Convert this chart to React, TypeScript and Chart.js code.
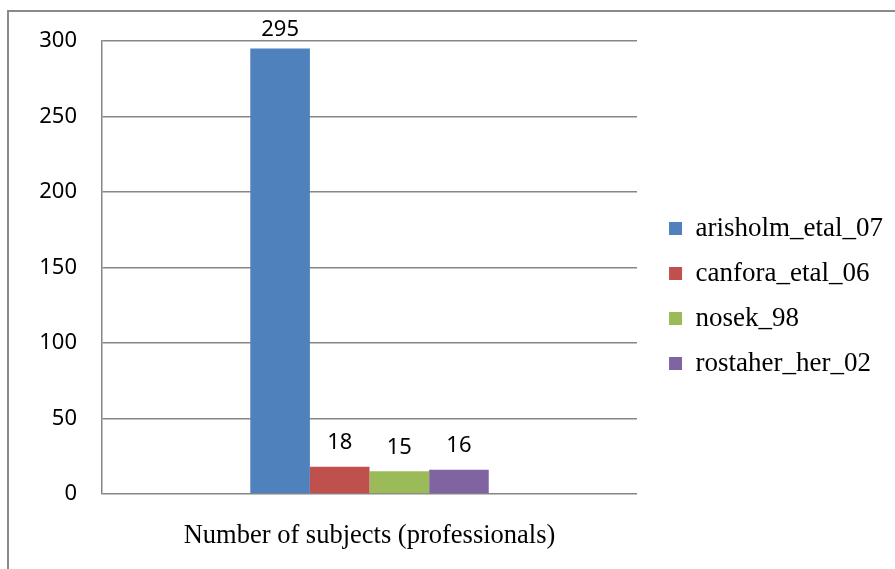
import React, { useEffect, useRef } from "react";
import { Chart, registerables } from "chart.js";

Chart.register(...registerables);

const categories = ["Number of subjects (professionals)"];
const seriesNames = ["arisholm_etal_07", "canfora_etal_06", "nosek_98", "rostaher_her_02"];
const seriesValues = [295, 18, 15, 16];
const seriesColors = ["#4F81BD", "#C0504D", "#9BBB59", "#8064A2"];
const yTicks = [0, 50, 100, 150, 200, 250, 300];

const GRID = "#868686";
const SANS = "'Noto Sans', 'Open Sans', sans-serif";
const SERIF = "'Liberation Serif', 'Times New Roman', serif";

const valueLabels = {
  id: "valueLabels",
  afterDatasetsDraw(chart: any) {
    const ctx = chart.ctx;
    ctx.save();
    ctx.font = `22px ${SANS}`;
    ctx.fillStyle = "#000";
    ctx.textAlign = "center";
    ctx.textBaseline = "middle";
    chart.data.datasets.forEach((ds: any, i: number) => {
      const meta = chart.getDatasetMeta(i);
      meta.data.forEach((bar: any, j: number) => {
        const y = Math.max(bar.y - 24, chart.chartArea.top - 11);
        ctx.fillText(String(ds.data[j]), bar.x, y);
      });
    });
    ctx.restore();
  },
};

export default function App() {
  const ref = useRef<HTMLCanvasElement | null>(null);

  useEffect(() => {
    if (!ref.current) return;
    const chart = new Chart(ref.current, {
      type: "bar",
      data: {
        labels: categories,
        datasets: seriesNames.map((name, i) => ({
          label: name,
          data: [seriesValues[i]],
          backgroundColor: seriesColors[i],
          borderWidth: 0,
          categoryPercentage: 0.4457,
          barPercentage: 1,
        })),
      },
      options: {
        animation: false,
        responsive: false,
        maintainAspectRatio: false,
        devicePixelRatio: 1,
        layout: { padding: { top: 41, bottom: 18, left: 0, right: 0 } },
        plugins: {
          tooltip: { enabled: false },
          legend: {
            position: "right",
            maxWidth: 400,
            labels: {
              boxWidth: 13,
              boxHeight: 13,
              padding: 18,
              color: "#000",
              font: { family: SERIF, size: 27 },
            },
          },
        },
        scales: {
          x: {
            grid: { display: false, drawTicks: false },
            border: { display: false },
            ticks: {
              color: "#000",
              padding: 26,
              font: { family: SERIF, size: 26.5 },
            },
            afterFit: (s: any) => {
              s.height = 57;
            },
          },
          y: {
            min: 0,
            max: 300,
            grid: { color: GRID, lineWidth: 1.5, drawTicks: false },
            border: { display: true, color: GRID, width: 1.5 },
            ticks: {
              color: "#000",
              padding: 25,
              font: { family: SANS, size: 22 },
            },
            afterBuildTicks: (s: any) => {
              s.ticks = yTicks.map((v) => ({ value: v }));
            },
            afterFit: (s: any) => {
              s.width = 102;
            },
          },
          y2: {
            position: "right",
            display: true,
            grid: { display: false, drawTicks: false },
            border: { display: false },
            ticks: { display: false },
            afterFit: (s: any) => {
              s.width = 14;
            },
          },
        },
      },
      plugins: [valueLabels],
    } as any);
    return () => chart.destroy();
  }, []);

  return (
    <div
      style={{
        position: "fixed",
        left: 0,
        top: 0,
        width: 895,
        height: 569,
        overflow: "hidden",
        background: "#fff",
      }}
    >
      <div
        style={{
          position: "absolute",
          left: 7,
          top: 10,
          width: 1000,
          height: 1000,
          borderTop: "2px solid #8a8a8a",
          borderLeft: "2px solid #8a8a8a",
          boxSizing: "border-box",
        }}
      />
      <canvas
        ref={ref}
        width={893}
        height={569}
        style={{ position: "absolute", left: 0, top: 0, display: "block" }}
      />
    </div>
  );
}
